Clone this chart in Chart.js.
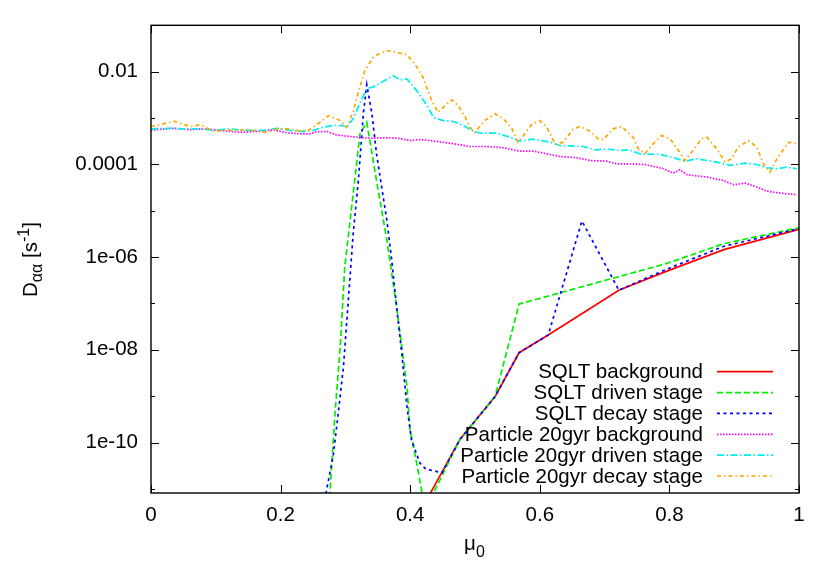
<!DOCTYPE html>
<html><head><meta charset="utf-8">
<script src="https://cdn.jsdelivr.net/npm/chart.js@4/dist/chart.umd.min.js"></script>
<style>html,body{margin:0;padding:0;background:#fff;}#wrap{width:830px;height:581px;}</style>
</head><body><div id="wrap"><canvas id="c" width="830" height="581"></canvas></div>
<script>
// ---- axis ticks ----
const xTicks = [0, 0.2, 0.4, 0.6, 0.8, 1];
const yMajorTicks = [1e-2, 1e-4, 1e-6, 1e-8, 1e-10];
const yMajorLabels = ['0.01', '0.0001', '1e-06', '1e-08', '1e-10'];
const yMinorTicks = [1e-1, 1e-3, 1e-5, 1e-7, 1e-9, 1e-11];

// ---- series names ----
const seriesNames = ['SQLT background', 'SQLT driven stage', 'SQLT decay stage',
  'Particle 20gyr background', 'Particle 20gyr driven stage', 'Particle 20gyr decay stage'];

// ---- SQLT background ----
const sqltBgMu = [0.423, 0.477, 0.531, 0.568, 0.613, 0.722, 0.796, 0.884, 1.0];
const sqltBgD  = [5e-12, 1.18e-10, 9.8e-10, 8.65e-9, 2.08e-8, 1.93e-7, 4.98e-7, 1.45e-6, 3.97e-6];

// ---- SQLT driven stage ----
const sqltDrMu = [0.273, 0.284, 0.292, 0.299, 0.312, 0.3225, 0.333, 0.348, 0.364, 0.379, 0.395, 0.3997, 0.410, 0.423, 0.477, 0.531, 0.568, 0.796, 0.884, 1.0];
const sqltDrD  = [1.7e-12, 4.3e-10, 1.16e-8, 6.1e-7, 2.33e-5, 4.56e-4, 8.1e-4, 4.5e-5, 2.3e-6, 8.5e-8, 1.6e-9, 1.9e-10, 3.6e-11, 3.5e-12, 1.18e-10, 9.8e-10, 9.7e-8, 7.3e-7, 1.95e-6, 4.3e-6];

// ---- SQLT decay stage ----
const sqltDcMu = [0.266, 0.271, 0.281, 0.289, 0.297, 0.3045, 0.312, 0.320, 0.3277, 0.333, 0.341, 0.348, 0.356, 0.364, 0.3715, 0.379, 0.387, 0.395, 0.402, 0.415, 0.425, 0.435, 0.449, 0.477, 0.531, 0.568, 0.613, 0.665, 0.722, 0.796, 0.884, 1.0];
const sqltDcD  = [3e-12, 9.6e-12, 5.0e-11, 4.3e-10, 4.3e-9, 1.18e-7, 3.2e-6, 4.5e-5, 1.23e-3, 5.25e-3, 1.23e-3, 1.7e-4, 3.2e-5, 6.2e-6, 8.5e-7, 8.5e-8, 8.4e-9, 6.0e-10, 1.14e-10, 3.6e-11, 2.6e-11, 2.5e-11, 2.2e-11, 1.18e-10, 9.8e-10, 8.65e-9, 2.08e-8, 6.0e-6, 1.93e-7, 5.5e-7, 1.71e-6, 4.1e-6];

// ---- Particle 20gyr background ----
const partBgMu = [0.0, 0.034, 0.060, 0.086, 0.106, 0.137, 0.168, 0.188, 0.210, 0.230, 0.245, 0.256, 0.272, 0.287, 0.307, 0.333, 0.359, 0.379, 0.400, 0.415, 0.436, 0.467, 0.492, 0.518, 0.544, 0.569, 0.590, 0.611, 0.631, 0.657, 0.678, 0.703, 0.719, 0.739, 0.762, 0.791, 0.806, 0.816, 0.827, 0.858, 0.883, 0.899, 0.917, 0.935, 0.950, 0.971, 0.997];
const partBgD  = [5.5e-4, 6.0e-4, 5.6e-4, 5.85e-4, 5.4e-4, 4.9e-4, 5.2e-4, 5.56e-4, 4.8e-4, 4.56e-4, 4.56e-4, 5.1e-4, 5.1e-4, 4.3e-4, 4.0e-4, 3.67e-4, 3.74e-4, 3.7e-4, 3.27e-4, 3.44e-4, 3.2e-4, 2.78e-4, 2.43e-4, 2.43e-4, 2.28e-4, 1.93e-4, 1.93e-4, 1.69e-4, 1.48e-4, 1.39e-4, 1.21e-4, 1.17e-4, 1.03e-4, 1.02e-4, 9.95e-5, 8.05e-5, 6.5e-5, 7.66e-5, 6.0e-5, 5.3e-5, 4.5e-5, 3.64e-5, 3.94e-5, 3.24e-5, 2.65e-5, 2.4e-5, 2.22e-5];

// ---- Particle 20gyr driven stage ----
const partDrMu = [0.0, 0.034, 0.049, 0.076, 0.096, 0.122, 0.142, 0.173, 0.194, 0.215, 0.235, 0.250, 0.265, 0.281, 0.296, 0.302, 0.312, 0.323, 0.333, 0.343, 0.356, 0.374, 0.384, 0.395, 0.410, 0.426, 0.436, 0.451, 0.467, 0.482, 0.495, 0.508, 0.534, 0.554, 0.569, 0.590, 0.616, 0.631, 0.667, 0.685, 0.703, 0.724, 0.737, 0.755, 0.786, 0.806, 0.824, 0.842, 0.873, 0.894, 0.917, 0.935, 0.950, 0.966, 0.981, 0.997];
const partDrD  = [5.85e-4, 6.0e-4, 5.85e-4, 5.85e-4, 5.4e-4, 5.85e-4, 5.4e-4, 5.4e-4, 6.0e-4, 5.4e-4, 5.1e-4, 5.4e-4, 6.3e-4, 6.9e-4, 6.9e-4, 6.3e-4, 9.6e-4, 2.2e-3, 4.25e-3, 4.7e-3, 5.9e-3, 8.2e-3, 6.6e-3, 7.0e-3, 3.9e-3, 1.85e-3, 1.03e-3, 8.8e-4, 8.4e-4, 6.9e-4, 5.4e-4, 4.7e-4, 4.7e-4, 3.85e-4, 3.16e-4, 3.5e-4, 3.0e-4, 2.55e-4, 2.43e-4, 2.06e-4, 2.13e-4, 2.0e-4, 2.06e-4, 1.68e-4, 1.64e-4, 1.39e-4, 1.17e-4, 1.32e-4, 1.12e-4, 9.5e-5, 1.06e-4, 9.95e-5, 8.45e-5, 8.05e-5, 8.7e-5, 8.05e-5];

// ---- Particle 20gyr decay stage ----
const partDcMu = [0.0, 0.019, 0.037, 0.050, 0.063, 0.076, 0.083, 0.096, 0.114, 0.132, 0.148, 0.163, 0.179, 0.194, 0.212, 0.230, 0.245, 0.261, 0.274, 0.292, 0.302, 0.312, 0.320, 0.330, 0.343, 0.353, 0.366, 0.379, 0.395, 0.407, 0.420, 0.433, 0.443, 0.451, 0.464, 0.474, 0.485, 0.492, 0.500, 0.515, 0.531, 0.544, 0.557, 0.566, 0.575, 0.588, 0.600, 0.611, 0.624, 0.636, 0.652, 0.662, 0.675, 0.690, 0.698, 0.713, 0.726, 0.744, 0.752, 0.762, 0.775, 0.788, 0.801, 0.814, 0.824, 0.834, 0.850, 0.858, 0.873, 0.886, 0.896, 0.906, 0.922, 0.935, 0.945, 0.955, 0.966, 0.984, 0.997];
const partDcD  = [6.5e-4, 7.5e-4, 8.5e-4, 7.2e-4, 6.6e-4, 7.2e-4, 6.3e-4, 5.2e-4, 5.4e-4, 5.4e-4, 5.6e-4, 5.2e-4, 4.9e-4, 5.85e-4, 5.85e-4, 5.2e-4, 5.6e-4, 8.1e-4, 1.13e-3, 8.8e-4, 6.3e-4, 1.38e-3, 3.6e-3, 1.05e-2, 2.03e-2, 2.48e-2, 2.83e-2, 2.6e-2, 2.32e-2, 1.47e-2, 7.5e-3, 2.38e-3, 1.33e-3, 1.7e-3, 2.46e-3, 1.85e-3, 1.04e-3, 6.3e-4, 4.9e-4, 8.8e-4, 1.23e-3, 9.6e-4, 5.85e-4, 3.0e-4, 4.2e-4, 7.5e-4, 8.8e-4, 6.3e-4, 2.7e-4, 3.0e-4, 5.85e-4, 6.55e-4, 5.4e-4, 3.56e-4, 3.4e-4, 5.85e-4, 6.55e-4, 3.85e-4, 2.2e-4, 1.69e-4, 2.78e-4, 4.2e-4, 3.56e-4, 2.0e-4, 1.21e-4, 1.83e-4, 3.56e-4, 3.85e-4, 2.17e-4, 1.12e-4, 1.32e-4, 2.35e-4, 3.27e-4, 2.35e-4, 1.03e-4, 6.8e-5, 1.32e-4, 3.0e-4, 2.8e-4];

const FONT = "'Liberation Sans', Arial, Helvetica, sans-serif";
const FS = 20.5;
Chart.defaults.font.family = FONT;
Chart.defaults.font.size = FS;
Chart.defaults.color = '#000';

const pts = (mu, d) => mu.map((m, i) => ({x: m, y: d[i]}));
const styles = [
  {c: '#ff0000', dash: []},
  {c: '#00ee00', dash: [6, 3]},
  {c: '#0000ff', dash: [3, 3.5]},
  {c: '#ff00ff', dash: [1.5, 1.5]},
  {c: '#00eeee', dash: [7, 2.5, 1.5, 2.5]},
  {c: '#ffa500', dash: [4, 3, 1.5, 3]}
];
const seriesData = [
  pts(sqltBgMu, sqltBgD), pts(sqltDrMu, sqltDrD), pts(sqltDcMu, sqltDcD),
  pts(partBgMu, partBgD), pts(partDrMu, partDrD), pts(partDcMu, partDcD)
];
const datasets = seriesData.map((d, i) => ({
  label: seriesNames[i], data: d, borderColor: styles[i].c, backgroundColor: styles[i].c,
  borderDash: styles[i].dash, borderWidth: 1.7, pointRadius: 0, tension: 0, fill: false,
  order: 6 - i
}));

const frame = {
  id: 'frame',
  afterDraw(chart) {
    const ctx = chart.ctx, a = chart.chartArea;
    const xs = chart.scales.x, ys = chart.scales.y;
    ctx.save();
    ctx.strokeStyle = '#000';
    ctx.lineWidth = 1;
    ctx.setLineDash([]);
    ctx.beginPath();
    xTicks.forEach(v => {
      const p = Math.round(xs.getPixelForValue(v)) + 0.5;
      ctx.moveTo(p, a.bottom); ctx.lineTo(p, a.bottom - 8);
      ctx.moveTo(p, a.top); ctx.lineTo(p, a.top + 8);
    });
    yMajorTicks.forEach(v => {
      const p = Math.round(ys.getPixelForValue(v)) + 0.5;
      ctx.moveTo(a.left, p); ctx.lineTo(a.left + 8, p);
      ctx.moveTo(a.right, p); ctx.lineTo(a.right - 8, p);
    });
    yMinorTicks.forEach(v => {
      const p = Math.round(ys.getPixelForValue(v)) + 0.5;
      ctx.moveTo(a.left, p); ctx.lineTo(a.left + 4, p);
      ctx.moveTo(a.right, p); ctx.lineTo(a.right - 4, p);
    });
    ctx.stroke();
    ctx.lineWidth = 1.4;
    ctx.strokeRect(a.left, a.top, a.right - a.left, a.bottom - a.top);

    // legend
    ctx.font = FS + 'px ' + FONT;
    ctx.textAlign = 'right';
    ctx.textBaseline = 'middle';
    ctx.fillStyle = '#000';
    chart.data.datasets.forEach((ds, i) => {
      const y = 371.7 + i * 20.86;
      ctx.fillText(ds.label, 703, y + 1);
      ctx.strokeStyle = ds.borderColor;
      ctx.lineWidth = 1.7;
      ctx.setLineDash(ds.borderDash);
      ctx.beginPath();
      ctx.moveTo(717, y); ctx.lineTo(773, y);
      ctx.stroke();
    });
    ctx.setLineDash([]);

    // x title: mu_0
    ctx.textAlign = 'left';
    ctx.textBaseline = 'alphabetic';
    ctx.font = FS + 'px ' + FONT;
    ctx.fillText('\u03bc', 464, 550);
    ctx.font = '16px ' + FONT;
    ctx.fillText('0', 476, 557);

    // y title: D_{αα} [s^{-1}]
    ctx.save();
    ctx.translate(36.5, 297);
    ctx.rotate(-Math.PI / 2);
    let x = 0;
    const seg = (t, size, dy) => {
      ctx.font = size + 'px ' + FONT;
      ctx.fillText(t, x, dy);
      x += ctx.measureText(t).width;
    };
    seg('D', FS, 0);
    seg('\u03b1\u03b1', 16, 5);
    seg(' [s', FS, 0);
    seg('-1', 16, -8);
    seg(']', FS, 0);
    ctx.restore();
    ctx.restore();
  }
};

new Chart(document.getElementById('c'), {
  type: 'line',
  data: {datasets},
  options: {
    responsive: false, animation: false, devicePixelRatio: 1,
    layout: {padding: {left: 0, right: 31, top: 25, bottom: 0}},
    plugins: {legend: {display: false}, tooltip: {enabled: false}},
    scales: {
      x: {
        type: 'linear', min: 0, max: 1,
        afterBuildTicks: s => { s.ticks = xTicks.map(v => ({value: v})); },
        afterFit: s => { s.height = 88; },
        grid: {display: false, drawTicks: false}, border: {display: false},
        ticks: {autoSkip: false, maxRotation: 0, padding: 10, font: {size: FS}, color: '#000',
          callback: v => String(v)}
      },
      y: {
        type: 'logarithmic', min: 8.15e-12, max: 0.1, bounds: 'data',
        afterBuildTicks: s => {
          s.ticks = yMinorTicks.concat(yMajorTicks).sort((p, q) => p - q).map(v => ({value: v}));
        },
        afterFit: s => { s.width = 151; },
        grid: {display: false, drawTicks: false}, border: {display: false},
        ticks: {autoSkip: false, padding: 13, font: {size: FS}, color: '#000',
          callback: v => {
            const i = yMajorTicks.findIndex(t => Math.abs(Math.log10(t) - Math.log10(v)) < 1e-6);
            return i >= 0 ? yMajorLabels[i] : '';
          }}
      }
    }
  },
  plugins: [frame]
});
</script></body></html>
